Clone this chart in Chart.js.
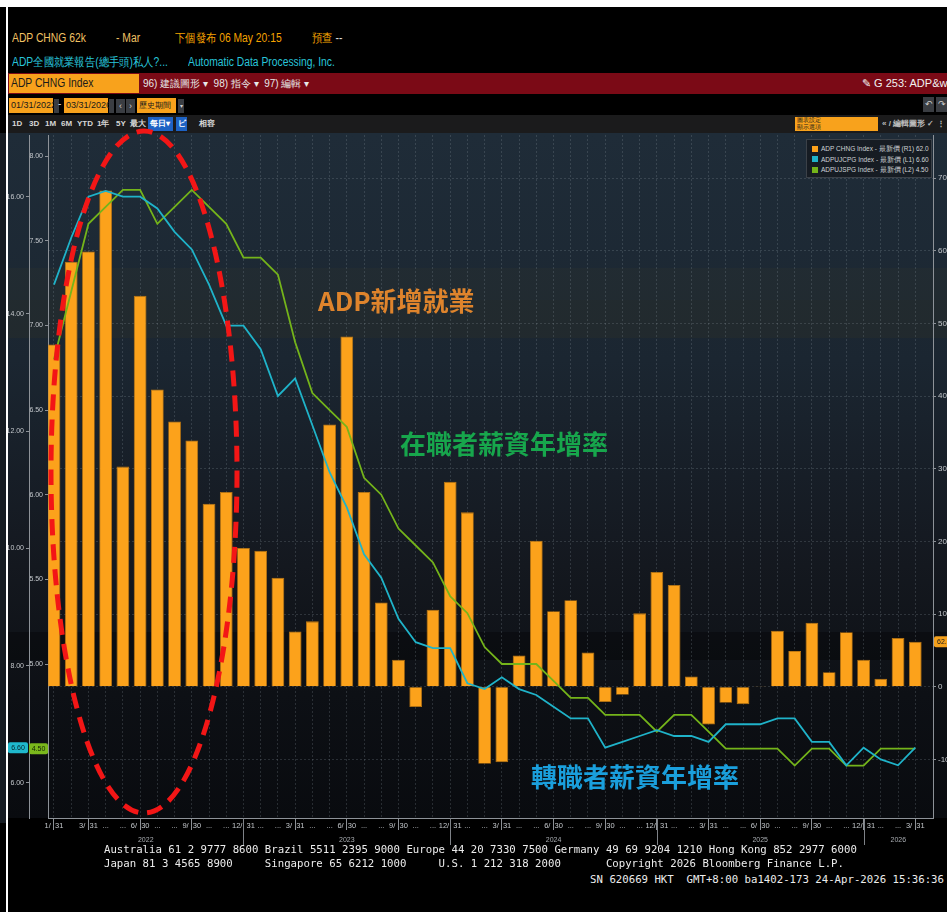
<!DOCTYPE html>
<html lang="zh-Hant">
<head>
<meta charset="utf-8">
<title>ADP CHNG Index</title>
<script src="https://cdn.jsdelivr.net/npm/chart.js@4.4.1/dist/chart.umd.min.js"></script>
<style>
  html, body { margin:0; padding:0; background:#000; }
  body { width:947px; height:912px; position:relative; overflow:hidden; font-family:'Liberation Sans', Arial, sans-serif; }
  .a { position:absolute; white-space:nowrap; }
  .hdr { font-size:12px; line-height:14px; transform:scaleX(0.86); transform-origin:left center; }
  .tb { font-size:8px; font-weight:bold; color:#d6d6d6; line-height:10px; }
  .ob { position:absolute; background:#f8a21c; color:#1a1a1a; font-size:10px; line-height:15px; box-sizing:border-box; padding-left:2px; }
  .gb { position:absolute; background:#3a3d42; color:#cfcfcf; font-size:9px; line-height:14px; text-align:center; }
  .foot { position:absolute; font-family:'DejaVu Sans Mono', monospace; font-size:10.7px; line-height:13px; color:#ececec; white-space:pre; }
  .note { position:absolute; white-space:nowrap; font-family:'Noto Sans CJK TC','Noto Sans CJK SC',sans-serif; font-size:26px; line-height:30px; font-weight:600; }
  #chartWrap { position:absolute; left:0; top:128px; width:947px; height:732px; }
  #legend { position:absolute; left:806px; top:139px; width:126px; height:39px; background:#161c23; border:1px solid #3b4148; box-sizing:border-box; padding:4px 0 0 5px; }
  .lg { font-size:6.5px; color:#cfd2d5; line-height:10.5px; white-space:nowrap; }
  .lg i { display:inline-block; width:6px; height:6px; margin-right:3px; vertical-align:-0.5px; }
</style>
</head>
<body>

<!-- frame -->
<div class="a" style="left:0;top:0;width:947px;height:7px;background:#fff"></div>
<div class="a" style="left:0;top:133px;width:6px;height:690px;background:#151b22"></div>
<div class="a" style="left:6px;top:0;width:2px;height:912px;background:#fff;z-index:5"></div>

<!-- header rows -->
<div class="a hdr" style="left:12px;top:31px;color:#f2c264">ADP CHNG 62k</div>
<div class="a hdr" style="left:116px;top:31px;color:#f2c264">- Mar</div>
<div class="a hdr" style="left:175px;top:31px;color:#f5a300">下個發布 06 May 20:15</div>
<div class="a hdr" style="left:312px;top:31px;color:#f5a300">預查 <span style="color:#e0e0e0">--</span></div>
<div class="a hdr" style="left:12px;top:55px;color:#28c4da">ADP全國就業報告(總手頭)私人?...</div>
<div class="a hdr" style="left:188px;top:55px;color:#28c4da">Automatic Data Processing, Inc.</div>

<div class="a" style="left:8px;top:73px;width:939px;height:21px;background:#7b0a16"></div>
<div class="ob" style="left:9px;top:74px;width:130px;height:19px;font-size:12px;line-height:19px"><span style="display:inline-block;transform:scaleX(0.86);transform-origin:left">ADP CHNG Index</span></div>
<div class="a" style="left:143px;top:77px;font-size:10px;line-height:14px;color:#e8e8e8">96) 建議圖形 ▾ &nbsp;98) 指令 ▾ &nbsp;97) 編輯 ▾</div>
<div class="a" style="left:862px;top:76px;font-size:11px;line-height:14px;color:#f2f2f2">&#9998; G 253: ADP&amp;wage</div>

<div class="ob" style="left:9px;top:98px;width:44px;height:15px;font-size:9px">01/31/2022</div>
<div class="gb" style="left:54px;top:99px;width:5px;height:14px"></div>
<div class="a" style="left:58px;top:98px;font-size:10px;color:#ddd">-</div>
<div class="ob" style="left:64px;top:98px;width:44px;height:15px;font-size:9px">03/31/2026</div>
<div class="gb" style="left:109px;top:99px;width:5px;height:14px"></div>
<div class="gb" style="left:116px;top:99px;width:9px;height:14px">&lsaquo;</div>
<div class="gb" style="left:126px;top:99px;width:9px;height:14px">&rsaquo;</div>
<div class="ob" style="left:137px;top:98px;width:39px;height:15px;font-size:8px">歷史期間</div>
<div class="gb" style="left:178px;top:99px;width:6px;height:14px;font-size:6px">▾</div>
<div class="gb" style="left:923px;top:97px;width:11px;height:15px">&#8630;</div>
<div class="gb" style="left:936px;top:97px;width:11px;height:15px">&#8631;</div>

<div class="a" style="left:8px;top:115px;width:939px;height:18px;background:#1b1b1c"></div>
<div class="a tb" style="left:12px;top:119px">1D</div>
<div class="a tb" style="left:29px;top:119px">3D</div>
<div class="a tb" style="left:45px;top:119px">1M</div>
<div class="a tb" style="left:61px;top:119px">6M</div>
<div class="a tb" style="left:77px;top:119px">YTD</div>
<div class="a tb" style="left:97px;top:119px">1年</div>
<div class="a tb" style="left:116px;top:119px">5Y</div>
<div class="a tb" style="left:130px;top:119px">最大</div>
<div class="a tb" style="left:148px;top:117px;width:25px;height:14px;background:#1d62c4;color:#fff;line-height:14px;padding-left:2px;box-sizing:border-box">每日▾</div>
<div class="a tb" style="left:176px;top:117px;width:11px;height:14px;background:#1d62c4;color:#fff;line-height:14px;text-align:center">ビ</div>
<div class="a tb" style="left:199px;top:119px">相容</div>
<div class="ob" style="left:795px;top:117px;width:83px;height:14px;font-size:6px;line-height:7px">圖表設定<br>顯示選項</div>
<div class="a tb" style="left:882px;top:119px;color:#bbb">&laquo; / 編輯圖形 &#10003; &#8942;</div>

<!-- chart -->
<div id="chartWrap"><canvas id="adpChart" width="947" height="732"></canvas></div>

<div id="legend"></div>

<!-- annotations -->
<div class="note" style="left:318px;top:285px;color:#df842c">ADP新增就業</div>
<div class="note" style="left:400px;top:428px;color:#17a64c">在職者薪資年增率</div>
<div class="note" style="left:531px;top:761px;color:#1a9fdc">轉職者薪資年增率</div>

<!-- footer -->
<div class="foot" style="left:104px;top:843px">Australia 61 2 9777 8600 Brazil 5511 2395 9000 Europe 44 20 7330 7500 Germany 49 69 9204 1210 Hong Kong 852 2977 6000</div>
<div class="foot" style="left:104px;top:857px">Japan 81 3 4565 8900     Singapore 65 6212 1000     U.S. 1 212 318 2000       Copyright 2026 Bloomberg Finance L.P.</div>
<div class="foot" style="right:3px;top:873px">SN 620669 HKT  GMT+8:00 ba1402-173 24-Apr-2026 15:36:36</div>

<script>
// ── data ──
const monthEnds = [
  '2022-01-31','2022-02-28','2022-03-31','2022-04-30','2022-05-31','2022-06-30',
  '2022-07-31','2022-08-31','2022-09-30','2022-10-31','2022-11-30','2022-12-31',
  '2023-01-31','2023-02-28','2023-03-31','2023-04-30','2023-05-31','2023-06-30',
  '2023-07-31','2023-08-31','2023-09-30','2023-10-31','2023-11-30','2023-12-31',
  '2024-01-31','2024-02-29','2024-03-31','2024-04-30','2024-05-31','2024-06-30',
  '2024-07-31','2024-08-31','2024-09-30','2024-10-31','2024-11-30','2024-12-31',
  '2025-01-31','2025-02-28','2025-03-31','2025-04-30','2025-05-31','2025-06-30',
  '2025-07-31','2025-08-31','2025-09-30','2025-10-31','2025-11-30','2025-12-31',
  '2026-01-31','2026-02-28','2026-03-31'
];

// ADP 新增就業 (千人, R1)
const adpChange = [
  471, 585, 599, 683, 303, 538, 409, 365, 339, 252, 268, 191,
  187, 150,  76,  90, 361, 482, 268, 116,  37, -28, 106, 282,
  240,-106,-104,  43, 201, 104, 119,  47, -21, -11, 101, 158,
  140,  14, -52, -22, -24,   1,  77,  49,  88,  20,  75,  37,
   11,  67,  62
];

// 轉職者薪資年增率 (%, L1)
const changerPay = [
  14.5, 15.3, 16.0, 16.1, 16.0, 16.0, 15.8, 15.4, 15.1, 14.5, 13.8, 13.8,
  13.4, 12.6, 12.9, 12.1, 11.3, 10.7,  9.9,  9.5,  8.8,  8.4,  8.3,  8.3,
   7.7,  7.6,  7.8,  7.6,  7.5,  7.3,  7.1,  7.1,  6.6,  6.7,  6.8,  6.9,
   6.8,  6.8,  6.7,  7.0,  7.0,  7.0,  7.1,  7.1,  6.7,  6.7,  6.3,  6.6,
   6.4,  6.3,  6.6
];

// 在職者薪資年增率 (%, L2)
const stayerPay = [
  6.8, 7.2, 7.6, 7.7, 7.8, 7.8, 7.6, 7.7, 7.8, 7.7, 7.6, 7.4,
  7.4, 7.3, 6.9, 6.6, 6.5, 6.4, 6.1, 6.0, 5.8, 5.7, 5.6, 5.4,
  5.3, 5.1, 5.0, 5.0, 5.0, 4.9, 4.8, 4.8, 4.7, 4.7, 4.7, 4.6,
  4.7, 4.7, 4.6, 4.5, 4.5, 4.5, 4.5, 4.4, 4.5, 4.5, 4.4, 4.4,
  4.5, 4.5, 4.5
];

const seriesNames = ['ADP CHNG Index', 'ADPUJCPG Index', 'ADPUJSPG Index'];
const seriesAxes  = ['R1', 'L1', 'L2'];
const r1Ticks = [-100, 0, 100, 200, 300, 400, 500, 600, 700];
const l1Ticks = [6, 8, 10, 12, 14, 16];
const l2Ticks = [5, 5.5, 6, 6.5, 7, 7.5, 8];

const COL_BAR = '#fca21b', COL_CYAN = '#1fb3c9', COL_GREEN = '#74b41a';

// ── legend (HTML) ──
const lastVals = [
  adpChange[adpChange.length - 1].toFixed(1),
  changerPay[changerPay.length - 1].toFixed(2),
  stayerPay[stayerPay.length - 1].toFixed(2)
];
const legCols = [COL_BAR, COL_CYAN, COL_GREEN];
document.getElementById('legend').innerHTML = seriesNames.map(function(n, k) {
  return '<div class="lg"><i style="background:' + legCols[k] + '"></i>' + n +
         ' - 最新價 (' + seriesAxes[k] + ') ' + lastVals[k] + '</div>';
}).join('');

// ── helpers ──
function monthOf(i) { return +monthEnds[i].slice(5, 7); }
function isLabeled(i) { return i === 0 || monthOf(i) % 3 === 0; }
function xTickText(i) {
  if (i < 0 || i >= monthEnds.length) return '';
  if (isLabeled(i)) return monthOf(i) + '/  ' + (+monthEnds[i].slice(8, 10));
  if (i === 1) return '';
  return '...';
}
function xy(arr) { return arr.map(function(v, i) { return { x: i, y: v }; }); }

Chart.defaults.font.family = "'Liberation Sans', Arial, sans-serif";

// ── background bands ──
const backdrop = {
  id: 'backdrop',
  beforeDraw(chart) {
    const c = chart.ctx, a = chart.chartArea, off = 128;
    c.save();
    const g = c.createLinearGradient(0, a.top, 0, a.bottom);
    g.addColorStop(0.00, '#1f2c38');
    g.addColorStop(0.33, '#1b2631');
    g.addColorStop(0.50, '#171e27');
    g.addColorStop(0.63, '#14181f');
    g.addColorStop(0.82, '#0d1015');
    g.addColorStop(1.00, '#090b0f');
    c.fillStyle = g;
    c.fillRect(8, a.top - 2, chart.width - 8, a.bottom - a.top + 2);
    c.fillStyle = 'rgba(85,75,35,0.11)';
    c.fillRect(8, 268 - off, chart.width - 8, 32);
    c.fillStyle = 'rgba(70,62,30,0.16)';
    c.fillRect(8, 300 - off, chart.width - 8, 38);
    c.fillStyle = 'rgba(0,0,0,0.30)';
    c.fillRect(8, 632 - off, chart.width - 8, 28);
    c.restore();
  }
};

// ── year separators, value tags, red ellipse ──
function tag(c, x0, w, y, bg, fg, text, align) {
  c.fillStyle = bg;
  c.beginPath();
  c.roundRect(x0, y - 5.5, w, 11, 2);
  c.fill();
  c.fillStyle = fg;
  c.font = '7px "Liberation Sans", Arial';
  c.textBaseline = 'middle';
  c.textAlign = align;
  c.fillText(text, align === 'left' ? x0 + 3 : x0 + w / 2, y + 0.5);
}

const decorations = {
  id: 'decorations',
  afterDraw(chart) {
    const c = chart.ctx, a = chart.chartArea, sx = chart.scales.x;
    c.save();
    const decIdx = [];
    monthEnds.forEach(function(d, i) { if (monthOf(i) === 12) decIdx.push(i); });
    c.strokeStyle = '#7e8287';
    c.lineWidth = 1;
    decIdx.forEach(function(i) {
      const px = Math.round(sx.getPixelForValue(i)) + 0.5;
      c.beginPath(); c.moveTo(px, a.bottom); c.lineTo(px, a.bottom + 27); c.stroke();
    });
    const edges = [a.left].concat(decIdx.map(function(i) { return sx.getPixelForValue(i); }), [a.right]);
    const years = [];
    monthEnds.forEach(function(d) { const y = d.slice(0, 4); if (years.indexOf(y) < 0) years.push(y); });
    c.fillStyle = '#a7abb0';
    c.font = '7px "Liberation Sans", Arial';
    c.textAlign = 'center';
    c.textBaseline = 'middle';
    years.forEach(function(y, k) { c.fillText(y, (edges[k] + edges[k + 1]) / 2, a.bottom + 22); });

    // last-value tags
    const n = adpChange.length - 1;
    tag(c, a.right + 1, 16, chart.scales.yR1.getPixelForValue(adpChange[n]), '#f5a11c', '#1a1a1a', lastVals[0], 'left');
    tag(c, 8, 20, chart.scales.yL1.getPixelForValue(changerPay[n]), '#1fb8cc', '#06242a', lastVals[1], 'center');
    tag(c, 29, 19, chart.scales.yL2.getPixelForValue(stayerPay[n]), '#7ab81c', '#132205', lastVals[2], 'center');

    // red dashed ellipse annotation
    c.strokeStyle = '#f31616';
    c.lineWidth = 5;
    c.setLineDash([16, 9]);
    c.beginPath();
    c.ellipse(144, 472 - 128, 93, 341, 0, 0, Math.PI * 2);
    c.stroke();
    c.restore();
  }
};

const gridCol = 'rgba(150,162,175,0.22)';
const axisCol = '#8d9298';
const tickTxt = '#c3c7cb';

new Chart(document.getElementById('adpChart'), {
  type: 'bar',
  data: {
    datasets: [
      { type: 'line', label: seriesNames[1], data: xy(changerPay), yAxisID: 'yL1',
        borderColor: COL_CYAN, borderWidth: 1.8, pointRadius: 0, tension: 0, order: 1 },
      { type: 'line', label: seriesNames[2], data: xy(stayerPay), yAxisID: 'yL2',
        borderColor: COL_GREEN, borderWidth: 1.8, pointRadius: 0, tension: 0, order: 2 },
      { type: 'bar', label: seriesNames[0], data: xy(adpChange), yAxisID: 'yR1',
        backgroundColor: COL_BAR, borderColor: '#c07810', borderWidth: 0.8,
        barPercentage: 0.74, categoryPercentage: 1, order: 3 }
    ]
  },
  options: {
    responsive: false,
    animation: false,
    devicePixelRatio: 1,
    layout: { padding: { top: 7, left: 0, right: 0, bottom: 0 } },
    plugins: { legend: { display: false }, tooltip: { enabled: false } },
    scales: {
      x: {
        type: 'linear', offset: false, min: -0.348, max: 51.03,
        afterBuildTicks: function(s) { s.ticks = monthEnds.map(function(_, i) { return { value: i }; }); },
        afterFit: function(s) { s.height = 42; },
        grid: {
          offset: false, color: gridCol, tickLength: 12,
          tickColor: function(ctx) { return ctx.tick && isLabeled(ctx.tick.value) ? '#8d9196' : 'rgba(0,0,0,0)'; }
        },
        border: { color: axisCol, dash: [2, 2] },
        ticks: { autoSkip: false, maxRotation: 0, minRotation: 0, padding: -9, color: tickTxt,
                 font: { size: 7.5 }, callback: function(v) { return xTickText(v); } }
      },
      yR1: {
        type: 'linear', position: 'right', min: -180.7, max: 759.4,
        afterBuildTicks: function(s) { s.ticks = r1Ticks.map(function(v) { return { value: v }; }); },
        afterFit: function(s) { s.width = 14; },
        grid: { color: gridCol, tickLength: 3, tickColor: axisCol },
        border: { color: axisCol, dash: [2, 2] },
        ticks: { color: tickTxt, font: { size: 8 }, padding: 2, callback: function(v) { return String(v); } }
      },
      yL1: {
        type: 'linear', position: 'left', weight: 1, min: 5.401, max: 17.0525,
        afterBuildTicks: function(s) { s.ticks = l1Ticks.map(function(v) { return { value: v }; }); },
        afterFit: function(s) { s.width = 29; },
        grid: { drawOnChartArea: false, tickLength: 3, tickColor: axisCol },
        border: { color: axisCol },
        ticks: { color: tickTxt, font: { size: 7 }, padding: 2, callback: function(v) { return v.toFixed(2); } }
      },
      yL2: {
        type: 'linear', position: 'left', weight: 0, min: 4.0904, max: 8.1246,
        afterBuildTicks: function(s) { s.ticks = l2Ticks.map(function(v) { return { value: v }; }); },
        afterFit: function(s) { s.width = 19; },
        grid: { drawOnChartArea: false, tickLength: 3, tickColor: axisCol },
        border: { color: axisCol },
        ticks: { color: tickTxt, font: { size: 7 }, padding: 2, callback: function(v) { return v.toFixed(2); } }
      }
    }
  },
  plugins: [backdrop, decorations]
});
</script>
</body>
</html>
